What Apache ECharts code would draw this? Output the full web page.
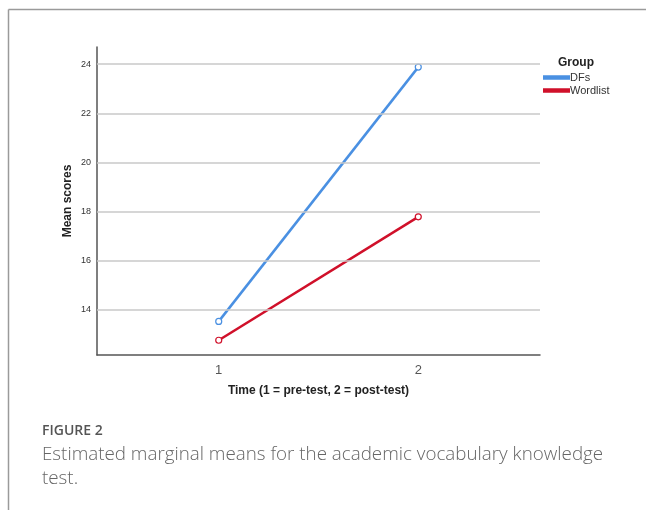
<!DOCTYPE html>
<html>
<head>
<meta charset="utf-8">
<script src="https://cdn.jsdelivr.net/npm/echarts@6/dist/echarts.min.js"></script>
<style>
html,body{margin:0;padding:0;background:#fff;}
#c{width:646px;height:510px;}
</style>
</head>
<body>
<div id="c"></div>
<script>
const timePoints = [1, 2];
const groupNames = ['DFs', 'Wordlist'];
const dfsMeans = [13.52, 23.88];
const wordlistMeans = [12.75, 17.78];
const yTicks = [14, 16, 18, 20, 22, 24];
const xTicks = [1, 2];
const colors = ['#4a90e2', '#d0102a'];

const chart = echarts.init(document.getElementById('c'));
const mkData = (vals) => timePoints.map((t, i) => [t, vals[i]]);
const lineSeries = (name, vals, color) => ({
  name: name,
  type: 'line',
  data: mkData(vals),
  symbol: 'circle',
  symbolSize: 6,
  showSymbol: true,
  lineStyle: {color: color, width: 2.5},
  itemStyle: {color: '#fff', borderColor: color, borderWidth: 1.2},
  z: 3,
  animation: false
});

chart.setOption({
  animation: false,
  textStyle: {fontFamily: 'Liberation Sans, Arial, sans-serif'},
  title: {
    text: 'Group', left: 553, top: 52,
    textStyle: {fontSize: 12, fontWeight: 'bold', color: '#222', fontFamily: 'Liberation Sans'}
  },
  legend: {
    data: groupNames.map((n, i) => ({name: n, icon: 'rect', itemStyle: {color: colors[i]}})),
    orient: 'vertical', left: 538, top: 67,
    itemWidth: 25, itemHeight: 2.5, itemGap: 2,
    textStyle: {fontSize: 11, color: '#333', padding: [0, 0, 0, -4], fontFamily: 'Liberation Sans'}
  },
  grid: {left: 97, right: 106, top: 47, bottom: 155},
  xAxis: {
    type: 'value', min: 0.39, max: 2.61,
    name: 'Time (1 = pre-test, 2 = post-test)',
    nameLocation: 'middle', nameGap: 30, nameMoveOverlap: false,
    nameTextStyle: {fontSize: 12, fontWeight: 'bold', color: '#222', fontFamily: 'Liberation Sans'},
    axisLine: {show: true, lineStyle: {color: '#555', width: 1.5}},
    axisTick: {show: false, customValues: xTicks},
    axisLabel: {customValues: xTicks, fontSize: 13, color: '#555', margin: 9},
    splitLine: {show: false}
  },
  yAxis: {
    type: 'value', min: 12.15, max: 24.7,
    name: 'Mean scores',
    nameLocation: 'middle', nameGap: 23, nameRotate: 90, nameMoveOverlap: false,
    nameTextStyle: {fontSize: 12, fontWeight: 'bold', color: '#222', fontFamily: 'Liberation Sans'},
    axisLine: {show: true, lineStyle: {color: '#555', width: 1.5}},
    axisTick: {show: false, customValues: yTicks},
    axisLabel: {customValues: yTicks, fontSize: 9, color: '#333', margin: 6},
    splitLine: {show: false}
  },
  series: [
    {
      type: 'line', data: [], silent: true, z: 1,
      markLine: {
        silent: true, symbol: 'none', label: {show: false},
        animation: false,
        lineStyle: {color: '#c8c8c8', width: 1.5, type: 'solid'},
        data: yTicks.map(v => ({yAxis: v}))
      }
    },
    lineSeries(groupNames[0], dfsMeans, colors[0]),
    lineSeries(groupNames[1], wordlistMeans, colors[1])
  ],
  graphic: [
    {type: 'line', shape: {x1: 8.5, y1: 9.5, x2: 646, y2: 9.5}, style: {stroke: '#9a9a9a', lineWidth: 1.5}, silent: true},
    {type: 'line', shape: {x1: 8.5, y1: 9.5, x2: 8.5, y2: 510}, style: {stroke: '#9a9a9a', lineWidth: 1.5}, silent: true},
    {type: 'text', left: 42, top: 424, silent: true,
     style: {text: 'FIGURE 2', fontSize: 14, fontWeight: 600, fill: '#555', fontFamily: 'Open Sans'}},
    {type: 'text', left: 42, top: 443, silent: true,
     style: {text: 'Estimated marginal means for the academic vocabulary knowledge\ntest.', fontSize: 18.8, lineHeight: 24, fontWeight: 300, fill: '#666', fontFamily: 'Open Sans'}}
  ]
});
</script>
</body>
</html>
